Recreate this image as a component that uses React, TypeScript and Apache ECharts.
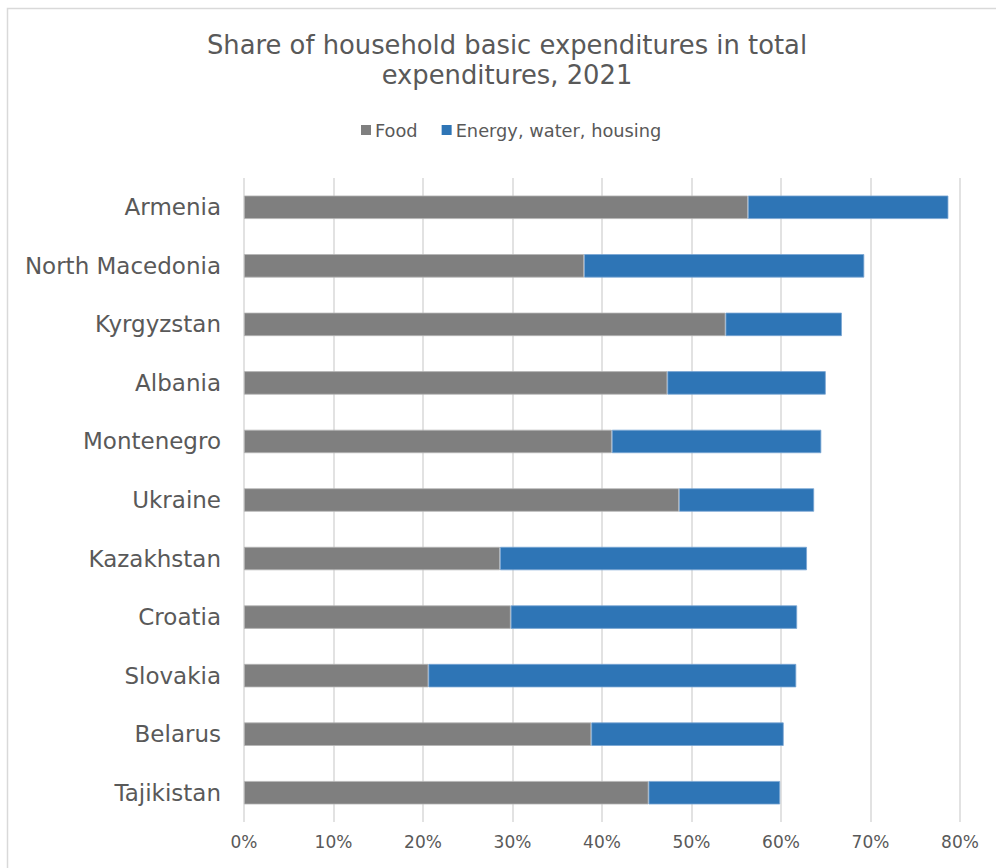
import React, { useEffect, useRef } from "react";
import * as echarts from "echarts";

const categories = [
  "Armenia",
  "North Macedonia",
  "Kyrgyzstan",
  "Albania",
  "Montenegro",
  "Ukraine",
  "Kazakhstan",
  "Croatia",
  "Slovakia",
  "Belarus",
  "Tajikistan",
];
const food = [56.3, 38.0, 53.8, 47.3, 41.1, 48.6, 28.6, 29.8, 20.6, 38.8, 45.2];
const energy = [22.4, 31.3, 13.0, 17.7, 23.4, 15.1, 34.3, 32.0, 41.1, 21.5, 14.7];
const seriesNames = ["Food", "Energy, water, housing"];
const titleText = "Share of household basic expenditures in total\nexpenditures, 2021";

const FONT = "DejaVu Sans";
const TEXT = "#595959";

export default function App() {
  const ref = useRef<HTMLDivElement>(null);
  useEffect(() => {
    if (!ref.current) return;
    const chart = echarts.init(ref.current, undefined, { renderer: "svg" });
    chart.setOption({
      animation: false,
      backgroundColor: "#ffffff",
      textStyle: { fontFamily: FONT },
      graphic: [
        {
          type: "rect",
          shape: { x: 7.5, y: 8.5, width: 1000, height: 900 },
          style: { fill: "none", stroke: "#d9d9d9", lineWidth: 1.5 },
          silent: true,
        },
        {
          type: "text",
          x: 507,
          y: 60,
          silent: true,
          style: {
            text: titleText,
            fontFamily: FONT,
            fontSize: 25.8,
            lineHeight: 30,
            fill: TEXT,
            align: "center",
            verticalAlign: "middle",
          },
        },
      ],
      legend: {
        left: 356,
        top: 116,
        icon: "rect",
        itemWidth: 10,
        itemHeight: 10,
        itemGap: 24,
        itemStyle: { borderWidth: 0 },
        textStyle: { fontFamily: FONT, fontSize: 17.8, color: TEXT, padding: [0, 0, 0, -1] },
        data: seriesNames,
      },
      grid: { left: 244, right: 36, top: 178, bottom: 46, containLabel: false },
      xAxis: {
        type: "value",
        min: 0,
        max: 80,
        interval: 10,
        axisLabel: {
          formatter: "{value}%",
          fontFamily: FONT,
          fontSize: 17,
          color: TEXT,
          margin: 11,
        },
        axisLine: { show: false },
        axisTick: { show: false },
        splitLine: { show: true, lineStyle: { color: "#d9d9d9", width: 1.5 } },
      },
      yAxis: {
        type: "category",
        data: categories,
        inverse: true,
        axisLine: { show: false },
        axisTick: { show: false },
        axisLabel: { fontFamily: FONT, fontSize: 23, color: TEXT, margin: 23 },
      },
      series: [
        {
          name: seriesNames[0],
          type: "bar",
          stack: "total",
          data: food,
          barWidth: "40%",
          itemStyle: { color: "#7f7f7f", borderColor: "#b5b5b5", borderWidth: 0.8 },
        },
        {
          name: seriesNames[1],
          type: "bar",
          stack: "total",
          data: energy,
          barWidth: "40%",
          itemStyle: { color: "#2e75b6", borderColor: "#7aa6d3", borderWidth: 0.8 },
        },
      ],
    });
    return () => chart.dispose();
  }, []);
  return (
    <div
      ref={ref}
      style={{ position: "fixed", left: 0, top: 0, width: 996, height: 868 }}
    />
  );
}
